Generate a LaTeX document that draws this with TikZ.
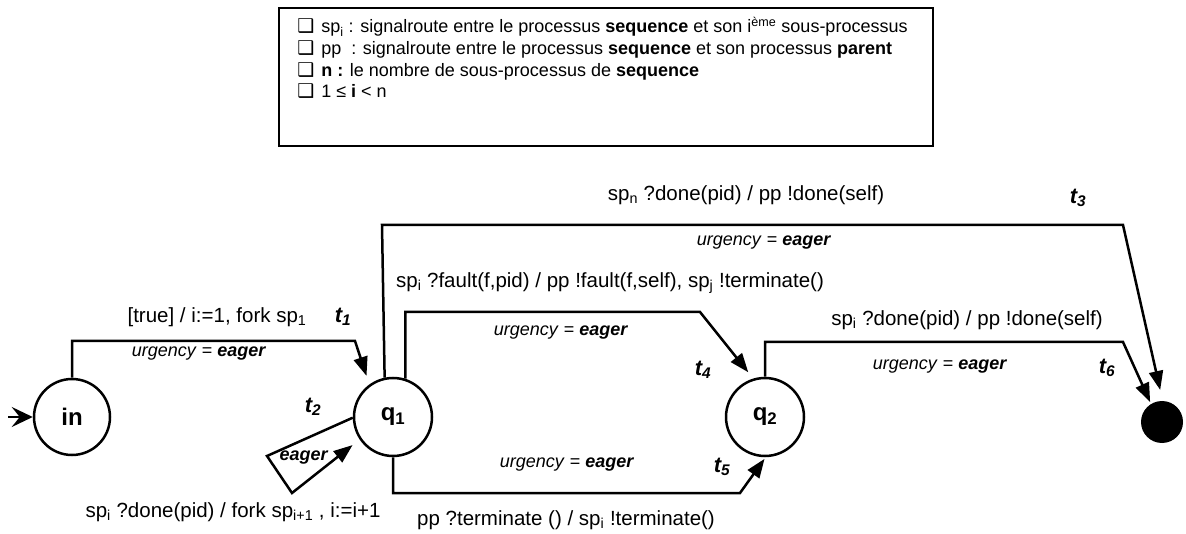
\documentclass[tikz,border=0pt]{standalone}
\usepackage{fontspec}
\setmainfont{Liberation Sans}
\newfontfamily\dvfont{DejaVu Sans}
\usetikzlibrary{arrows.meta}
\newcommand{\cbox}{{\dvfont\fontsize{19}{19}\selectfont ❑}}
\newcommand{\urg}{\textit{urgency} = \textbf{\textit{eager}}}
\begin{document}
\begin{tikzpicture}[x=1pt,y=-1pt,line width=2.5pt,
  state/.style={circle, draw, line width=2.5pt, inner sep=0pt, minimum size=78pt, font=\fontsize{24}{26}\selectfont\bfseries},
  lab/.style={inner sep=0pt, font=\fontsize{20.5}{23}\selectfont},
  ulab/.style={inner sep=0pt, font=\fontsize{18}{21}\selectfont},
  tlab/.style={inner sep=0pt, font=\fontsize{22}{24}\selectfont\bfseries\itshape},
  trans/.style={line width=2.5pt, line join=miter, -{Triangle[length=19pt,width=14pt]}},
  leg/.style={inner sep=0pt, anchor=base west, font=\fontsize{18}{21}\selectfont}]
\useasboundingbox (0,0) rectangle (1186,534);

% legend
\node[draw, line width=1.6pt, inner sep=0pt, anchor=north west, minimum width=654pt, minimum height=138pt] (legend) at (278,7) {};
\node[leg] (l1) at (296,33) {\cbox\hspace{7pt}sp\textsubscript{i} : signalroute entre le processus \textbf{sequence} et son i\textsuperscript{ème} sous-processus};
\node[leg] (l2) at (296,55) {\cbox\hspace{7pt}pp\ \ : signalroute entre le processus \textbf{sequence} et son processus \textbf{parent}};
\node[leg] (l3) at (296,77) {\cbox\hspace{7pt}\textbf{n :} le nombre de sous-processus de \textbf{sequence}};
\node[leg] (l4) at (296,98) {\cbox\hspace{7pt}1 ≤ \textbf{i} < n};

% states
\node[state, minimum size=76pt] (in) at (72,417) {in};
\node[state] (q1) at (393,417) {q\textsubscript{1}};
\node[state] (q2) at (765,417) {q\textsubscript{2}};
\node[circle, fill=black, inner sep=0pt, minimum size=42pt] (fin) at (1162,422) {};

% initial arrow
\coordinate (init) at (8,417);
\draw[-{Stealth[length=21pt,width=20pt,inset=8pt]}] (init) -- (in.west);

% t1
\coordinate (c1) at (355,341);
\draw[trans, shorten >=9pt] (in.north) |- (c1) -- (q1.126);
% t2
\coordinate (a2) at (267,456);
\coordinate (b2) at (292,493);
\draw[trans, shorten >=9pt] (q1.181) -- (a2) -- (b2) -- (q1.214);
% t3
\coordinate (a3) at (382,225);
\coordinate (b3) at (1123,225);
\draw[trans, shorten >=10pt] (q1.102) -- (a3) -- (b3) -- (fin.89);
% t4
\coordinate (b4) at (700,312);
\draw[trans, shorten >=8pt] (q1.72) |- (b4) -- (q2.107);
% t5
\coordinate (b5) at (740,493);
\draw[trans, shorten >=2pt] (q1.south) |- (b5) -- (q2.271);
% t6
\coordinate (b6) at (1123,342);
\draw[trans, shorten >=1pt] (q2.north) |- (b6) -- (fin.121);

% labels t1
\node[lab] (e1) at (217,317) {[true] / i:=1, fork sp\textsubscript{1}};
\node[ulab] (u1) at (199,354) {\urg};
\node[tlab] (t1) at (343,317) {t\textsubscript{1}};
% t2
\node[tlab] (t2) at (313,407) {t\textsubscript{2}};
\node[ulab] (u2) at (304,458) {\textbf{\textit{eager}}};
\node[lab] (e2) at (233,512) {sp\textsubscript{i} ?done(pid) / fork sp\textsubscript{i+1} , i:=i+1};
% t3
\node[lab] (e3) at (746,195) {sp\textsubscript{n} ?done(pid) / pp !done(self)};
\node[ulab] (u3) at (764,243) {\urg};
\node[tlab] (t3) at (1078,198) {t\textsubscript{3}};
% t4
\node[lab] (e4) at (610,283) {sp\textsubscript{i} ?fault(f,pid) / pp !fault(f,self), sp\textsubscript{j} !terminate()};
\node[ulab] (u4) at (561,333) {\urg};
\node[tlab] (t4) at (703,370) {t\textsubscript{4}};
% t5
\node[ulab] (u5) at (567,465) {\urg};
\node[tlab] (t5) at (722,467) {t\textsubscript{5}};
\node[lab] (e5) at (566,520) {pp ?terminate () / sp\textsubscript{i} !terminate()};
% t6
\node[lab] (e6) at (967,320) {sp\textsubscript{i} ?done(pid) / pp !done(self)};
\node[ulab] (u6) at (940,367) {\urg};
\node[tlab] (t6) at (1107,368) {t\textsubscript{6}};
\end{tikzpicture}
\end{document}
